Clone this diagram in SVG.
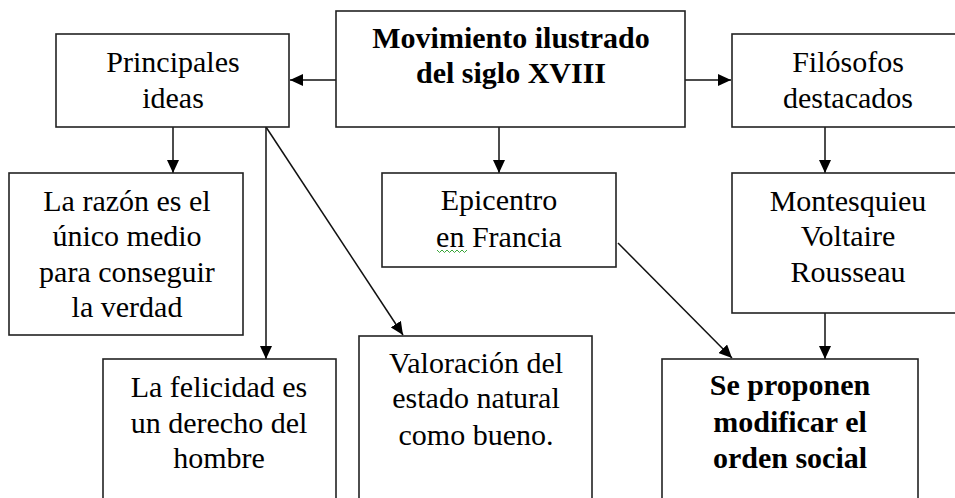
<svg xmlns="http://www.w3.org/2000/svg" width="955" height="498" viewBox="0 0 955 498">
<defs>
<marker id="ah" markerUnits="userSpaceOnUse" markerWidth="14" markerHeight="12" refX="13" refY="6" orient="auto">
<path d="M0,0 L13,6 L0,12 Z" fill="#000"/>
</marker>
<style>
.box{fill:#fff;stroke:#222;stroke-width:1.6}
.t{font-family:'Liberation Serif','Times New Roman',Times,'DejaVu Serif',serif;font-size:30px;fill:#000;text-anchor:middle}
.b{font-weight:bold}
.c{stroke:#111;stroke-width:1.5;fill:none;marker-end:url(#ah)}
</style>
</defs>
<rect width="955" height="498" fill="#fff"/>
<g id="connectors">
<line class="c" x1="336" y1="80" x2="290" y2="80"/>
<line class="c" x1="685" y1="80" x2="731" y2="80"/>
<line class="c" x1="499" y1="127" x2="499" y2="173"/>
<line class="c" x1="173" y1="127" x2="173" y2="173"/>
<line class="c" x1="266" y1="127" x2="266" y2="359"/>
<line class="c" x1="266" y1="127" x2="403" y2="335"/>
<line class="c" x1="825" y1="127" x2="825" y2="173"/>
<line class="c" x1="618" y1="243" x2="732" y2="358"/>
<line class="c" x1="825" y1="313" x2="825" y2="359"/>
</g>
<g id="movimiento">
<rect class="box" x="336" y="11" width="349" height="116"/>
<text class="t b" x="511" y="48" font-family="Liberation Serif">Movimiento ilustrado</text>
<text class="t b" x="511" y="83" font-family="Liberation Serif">del siglo XVIII</text>
</g>
<g id="principales">
<rect class="box" x="56" y="34" width="233" height="93"/>
<text class="t" x="173" y="72">Principales</text>
<text class="t" x="173" y="108">ideas</text>
</g>
<g id="filosofos">
<rect class="box" x="732" y="34" width="240" height="93"/>
<text class="t" x="848" y="72">Filósofos</text>
<text class="t" x="848" y="108">destacados</text>
</g>
<g id="razon">
<rect class="box" x="9" y="173" width="234" height="162"/>
<text class="t" x="127" y="211">La razón es el</text>
<text class="t" x="127" y="246">único medio</text>
<text class="t" x="127" y="282">para conseguir</text>
<text class="t" x="127" y="317">la verdad</text>
</g>
<g id="epicentro">
<rect class="box" x="382" y="173" width="234" height="94"/>
<text class="t" x="499" y="210">Epicentro</text>
<text class="t" x="499" y="247">en Francia</text>
<path d="M437,250 l2.5,2.5 l2.5,-2.5 l2.5,2.5 l2.5,-2.5 l2.5,2.5 l2.5,-2.5 l2.5,2.5 l2.5,-2.5 l2.5,2.5 l2.5,-2.5 l2.5,2.5 l2.5,-2.5" fill="none" stroke="#3aa63a" stroke-width="1"/>
</g>
<g id="montesquieu">
<rect class="box" x="732" y="173" width="240" height="140"/>
<text class="t" x="848" y="211">Montesquieu</text>
<text class="t" x="848" y="246">Voltaire</text>
<text class="t" x="848" y="282">Rousseau</text>
</g>
<g id="felicidad">
<rect class="box" x="103" y="359" width="233" height="160"/>
<text class="t" x="219" y="397">La felicidad es</text>
<text class="t" x="219" y="433">un derecho del</text>
<text class="t" x="219" y="468">hombre</text>
</g>
<g id="valoracion">
<rect class="box" x="359" y="336" width="233" height="180"/>
<text class="t" x="476" y="373">Valoración del</text>
<text class="t" x="476" y="408">estado natural</text>
<text class="t" x="476" y="445">como bueno.</text>
</g>
<g id="seproponen">
<rect class="box" x="662" y="359" width="256" height="160"/>
<text class="t b" x="790" y="395">Se proponen</text>
<text class="t b" x="790" y="432">modificar el</text>
<text class="t b" x="790" y="468">orden social</text>
</g>
</svg>
